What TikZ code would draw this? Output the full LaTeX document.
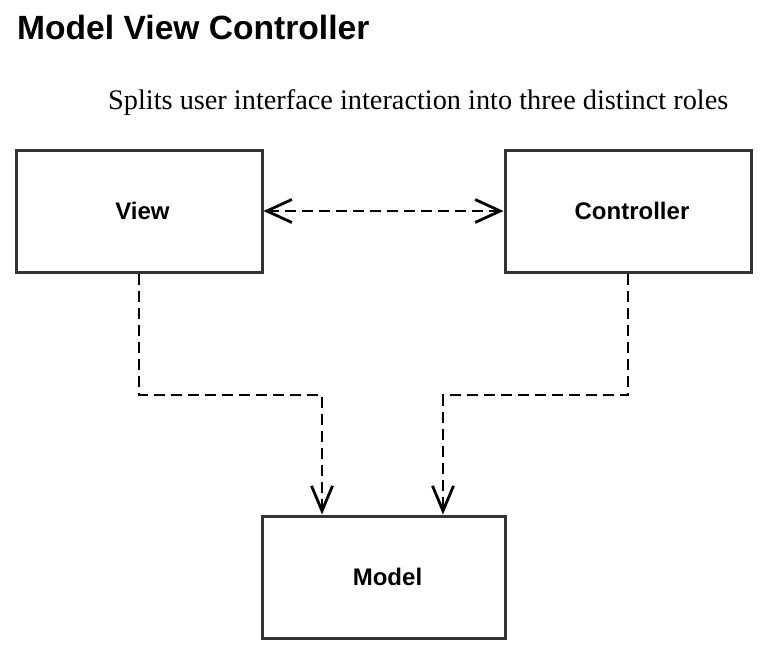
\documentclass[tikz,border=0pt]{standalone}
\usepackage{fontspec}
\setmainfont{Liberation Serif}
\setsansfont{Liberation Sans}
\usetikzlibrary{arrows.meta}
\begin{document}
\begin{tikzpicture}[x=1pt,y=-1pt,
  box/.style={draw=black!80, line width=3pt, minimum height=122pt, inner sep=0pt,
    text depth=0pt, font=\sffamily\bfseries\fontsize{24}{26}\selectfont},
  tip/.style={Straight Barb[length=25pt,width=23pt,line width=2.8pt]},
  dep/.style={line width=2.8pt, dash pattern=on 11pt off 6pt, -{Straight Barb[length=25pt,width=21pt,line width=2.8pt]}},
  bidep/.style={line width=2.8pt, dash pattern=on 11pt off 6pt,
    {Straight Barb[length=25pt,width=23pt,line width=2.8pt]}-{Straight Barb[length=25pt,width=23pt,line width=2.8pt]}}]
\useasboundingbox (0,0) rectangle (774,665);
\node[anchor=base west, inner sep=0pt, font=\sffamily\bfseries\fontsize{33.6}{38}\selectfont] (title) at (17,39) {Model View Controller};
\node[anchor=base west, inner sep=0pt, font=\fontsize{28.3}{32}\selectfont] (sub) at (108,109) {Splits user interface interaction into three distinct roles};
\node[box, minimum width=246pt] (view) at (139,211) {\hspace{7pt}View};
\node[box, minimum width=246pt] (ctrl) at (628,211) {\hspace{8pt}Controller};
\node[box, minimum width=243pt] (model) at (383.5,577) {\hspace{8pt}Model};
\draw[bidep] (view.east) -- (ctrl.west);
\coordinate (va) at (139,395);
\coordinate (vb) at (322,395);
\coordinate (ca) at (628,395);
\coordinate (cb) at (443,395);
\draw[dep] (view.south) -- (va) -- (vb) -- (vb |- model.north);
\draw[dep] (ctrl.south) -- (ca) -- (cb) -- (cb |- model.north);
\end{tikzpicture}
\end{document}
